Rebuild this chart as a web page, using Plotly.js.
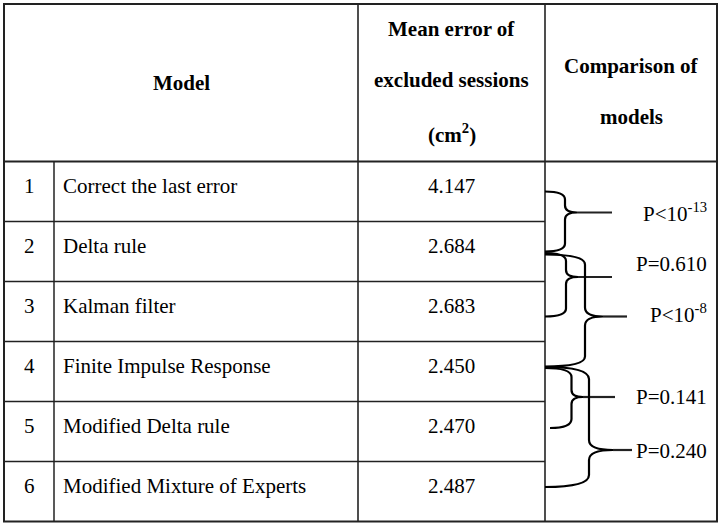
<!DOCTYPE html>
<html>
<head>
<meta charset="utf-8">
<script src="https://cdn.plot.ly/plotly-3.0.1.min.js"></script>
<style>html,body{margin:0;padding:0;background:#fff;}#chart{width:720px;height:527px;}</style>
</head>
<body>
<div id="chart"></div>
<script>
// ---------- DATA ----------
const modelNumbers = ['1', '2', '3', '4', '5', '6'];
const modelNames = ['Correct the last error', 'Delta rule', 'Kalman filter',
  'Finite Impulse Response', 'Modified Delta rule', 'Modified Mixture of Experts'];
const meanErrors = [4.147, 2.684, 2.683, 2.450, 2.470, 2.487];
const comparisonFrom = [1, 2, 2, 4, 4];
const comparisonTo = [2, 3, 4, 5, 6];
const comparisonLabels = ['P&lt;10<sup>-13</sup>', 'P=0.610', 'P&lt;10<sup>-8</sup>', 'P=0.141', 'P=0.240'];
const headerModel = 'Model';
const headerMean = ['Mean error of', 'excluded sessions', '(cm<sup>2</sup>)'];
const headerComparison = ['Comparison of', 'models'];

// ---------- LAYOUT / STYLE ----------
const W = 720, H = 527;
const col = {left: 4, num: 54, model: 358, mean: 545, right: 717};
const tableTop = 4, headBottom = 161.5, rowH = 60;
const tableBottom = headBottom + rowH * modelNames.length;
const FONT = 'Liberation Serif, Times New Roman, serif';
const FS = 21;
const LINE = '#222222';
const rowTop = k => headBottom + rowH * (k - 1);
const rowCenter = k => rowTop(k) + rowH / 2;

// brace geometry (offsets relative to row centres, positions in px)
const braceGeom = [
  {dT: 0,   dB: 0,   xs: 565, tip: 212.5, xt: 577, end: 612, r: 8,  rt: 7,  x0b: 545, ly: 212},
  {dT: 1.5, dB: 5,   xs: 566, tip: 277,   xt: 578, end: 612, r: 8,  rt: 7,  x0b: 545, ly: 264},
  {dT: 3,   dB: -5,  xs: 585, tip: 316.5, xt: 603, end: 627, r: 10, rt: 9,  x0b: 545, ly: 313},
  {dT: -3.5,dB: -3.5,xs: 571.5,tip: 397,  xt: 583, end: 615, r: 9,  rt: 7,  x0b: 550, ly: 397},
  {dT: -4.5,dB: -4.5,xs: 589, tip: 450,   xt: 613, end: 632, r: 12, rt: 10, x0b: 545, ly: 451}
];

const shapes = [];
function line(x0, y0, x1, y1, w) {
  shapes.push({type: 'line', xref: 'x', yref: 'y', x0, y0, x1, y1,
    line: {color: LINE, width: w || 1.5}});
}
// outer border
shapes.push({type: 'rect', xref: 'x', yref: 'y', x0: col.left, x1: col.right, y0: tableTop, y1: tableBottom,
  line: {color: LINE, width: 2}, fillcolor: 'rgba(0,0,0,0)'});
// header bottom
line(col.left, headBottom, col.right, headBottom, 1.8);
// vertical dividers
line(col.num, headBottom, col.num, tableBottom, 1.5);
line(col.model, tableTop, col.model, tableBottom, 1.6);
line(col.mean, tableTop, col.mean, tableBottom, 1.6);
// row lines (first three columns only)
for (let k = 1; k < modelNames.length; k++) {
  line(col.left, rowTop(k + 1), col.mean, rowTop(k + 1), 1.5);
}

// braces
comparisonFrom.forEach((a, i) => {
  const b = comparisonTo[i];
  const g = braceGeom[i];
  const x0 = col.mean;
  const yT = rowCenter(a) + g.dT;
  const yB = rowCenter(b) + g.dB;
  const xs = g.xs, r = g.r, rt = g.rt;
  const p = `M${x0},${yT} Q${xs},${yT} ${xs},${yT + r} L${xs},${g.tip - rt} ` +
            `Q${xs},${g.tip} ${g.xt},${g.tip} Q${xs},${g.tip} ${xs},${g.tip + rt} ` +
            `L${xs},${yB - r} Q${xs},${yB} ${g.x0b},${yB}`;
  shapes.push({type: 'path', xref: 'x', yref: 'y', path: p,
    line: {color: '#000', width: 2.2}});
  line(g.xt, g.tip, g.end, g.tip, 2.2);
});

// text annotations
const ann = [];
function txt(x, y, text, anchor, bold) {
  ann.push({xref: 'x', yref: 'y', x, y, text: text,
    showarrow: false, xanchor: anchor || 'center', yanchor: 'middle',
    font: {family: FONT, size: FS, color: '#000', weight: bold ? 700 : 400}});
}
txt((col.left + col.model) / 2, 83, headerModel, 'center', true);
const meanY = [29, 80, 133];
headerMean.forEach((t, i) => txt((col.model + col.mean) / 2, meanY[i], t, 'center', true));
const compY = [66, 117];
headerComparison.forEach((t, i) => txt((col.mean + col.right) / 2, compY[i], t, 'center', true));

modelNames.forEach((name, i) => {
  const yc = rowTop(i + 1) + 24;
  txt((col.left + col.num) / 2, yc, modelNumbers[i], 'center');
  txt(col.num + 7, yc, name, 'left');
  txt((col.model + col.mean) / 2, yc, meanErrors[i].toFixed(3), 'center');
});
comparisonLabels.forEach((t, i) => txt(709, braceGeom[i].ly, t, 'right'));

const data = [{x: [0], y: [0], type: 'scatter', mode: 'markers',
  marker: {opacity: 0}, hoverinfo: 'skip', showlegend: false}];

const layout = {
  width: W, height: H,
  margin: {l: 0, r: 0, t: 0, b: 0, pad: 0},
  paper_bgcolor: '#fff', plot_bgcolor: '#fff',
  xaxis: {range: [0, W], visible: false, fixedrange: true},
  yaxis: {range: [H, 0], visible: false, fixedrange: true},
  shapes, annotations: ann, showlegend: false
};
Plotly.newPlot('chart', data, layout, {staticPlot: true, displayModeBar: false});
</script>
</body>
</html>
